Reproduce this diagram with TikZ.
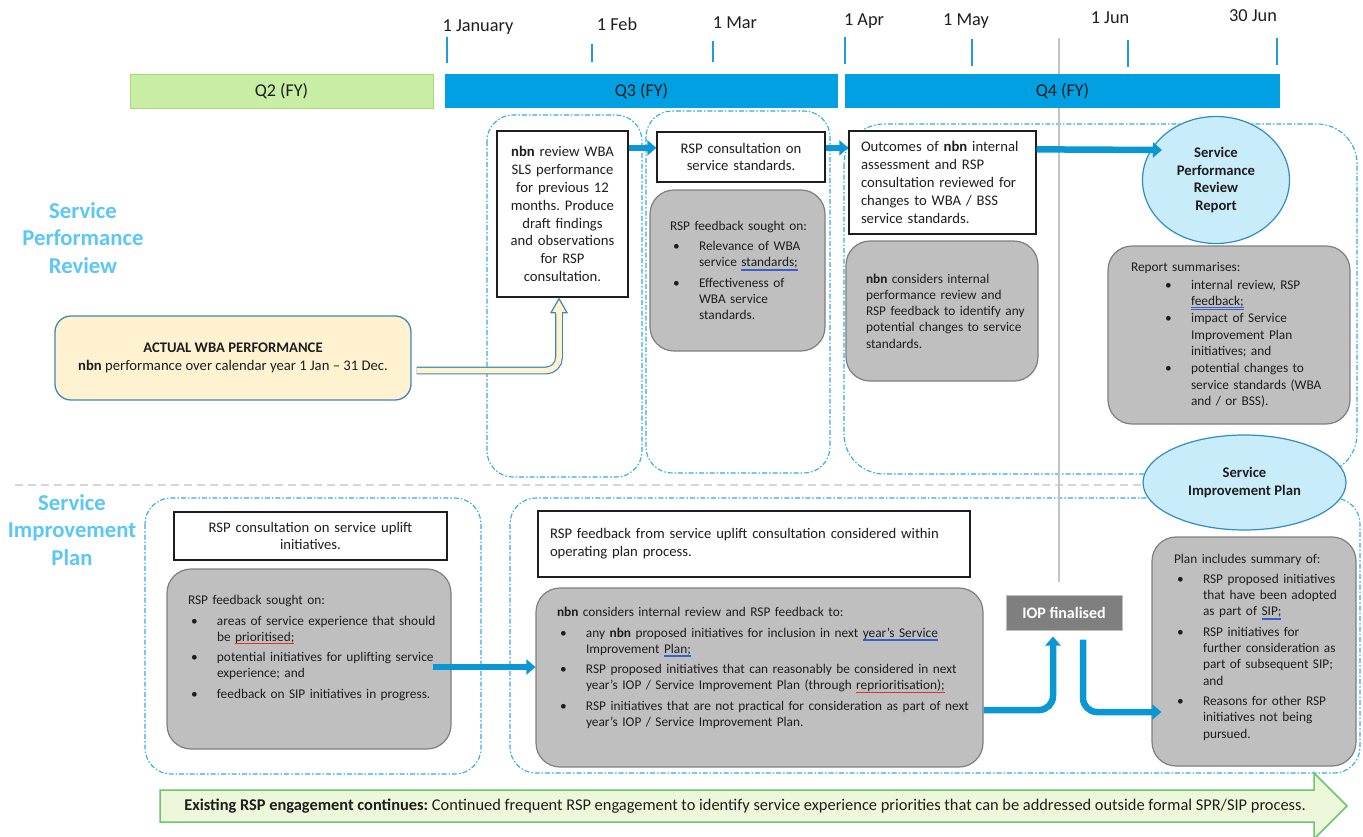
\documentclass[tikz,border=0pt]{standalone}
\usepackage{fontspec}
\setmainfont{Carlito}
\usetikzlibrary{arrows.meta,calc,shapes.geometric}
\frenchspacing
\definecolor{PlanInk}{HTML}{1E1E1E}
\definecolor{PlanQuarter}{HTML}{00A0E3}
\definecolor{PlanGreen}{HTML}{C8EDA4}
\definecolor{PlanGreenEdge}{HTML}{A9DC6E}
\definecolor{PlanTick}{HTML}{1B9DDE}
\definecolor{PlanArrow}{HTML}{0B96D4}
\definecolor{PlanDash}{HTML}{2FAAE6}
\definecolor{PlanHead}{HTML}{5BC7F8}
\definecolor{PlanGrey}{HTML}{BFBFBF}
\definecolor{PlanGreyEdge}{HTML}{7F7F7F}
\definecolor{PlanBubble}{HTML}{C9ECFB}
\definecolor{PlanBubbleEdge}{HTML}{2F8DC2}
\definecolor{PlanCream}{HTML}{FFF2D1}
\definecolor{PlanCreamEdge}{HTML}{3D88B5}
\definecolor{PlanIop}{HTML}{7F7F7F}
\definecolor{PlanEngage}{HTML}{ECF8D9}
\definecolor{PlanEngageEdge}{HTML}{6DC472}
\definecolor{PlanRule}{HTML}{C4C4C4}
\definecolor{PlanSplit}{HTML}{D6D6D6}
\definecolor{GramBlue}{HTML}{3C5FD0}
\definecolor{SpellRed}{HTML}{E03030}
\newlength\bulletlead \setlength\bulletlead{3pt}
\newlength\bulletgap \setlength\bulletgap{29pt}
\newcommand{\bitem}[1]{\par\hangindent=\bulletgap\hangafter=1\noindent\hbox to \bulletgap{\hskip\bulletlead\textbullet\hfil}#1}
\newcommand{\gram}[1]{\setbox0=\hbox{#1}\rlap{\color{GramBlue}\rule[-2.2pt]{\wd0}{0.5pt}\kern-\wd0\rule[-3.5pt]{\wd0}{0.5pt}}\box0}
\newcommand{\spell}[1]{\setbox0=\hbox{#1}\rlap{\color{SpellRed}\rule[-2.6pt]{\wd0}{0.7pt}}\box0}
\tikzset{
  every node/.style={font=\fontsize{14.67}{17.9}\selectfont, text=PlanInk},
  quarter/.style={minimum height=34pt, inner sep=0pt, font=\fontsize{18}{22}\selectfont},
  datetick/.style={draw=PlanTick, line width=2pt},
  datelabel/.style={anchor=base, font=\fontsize{18.3}{22}\selectfont},
  region/.style={draw=PlanDash, line width=1.1pt, dash pattern=on 5pt off 2pt on 1.5pt off 2pt, rounded corners=26pt},
  heading/.style={text=PlanHead, font=\bfseries\fontsize{22.7}{27.8}\selectfont, align=center},
  whitebox/.style={draw=PlanInk, line width=1.3pt, fill=white, inner sep=0pt},
  greybox/.style={draw=PlanGreyEdge, line width=1.2pt, fill=PlanGrey, rounded corners=24pt, inner sep=0pt, align=left,
    font=\fontsize{13.33}{16.3}\selectfont, execute at begin node={\leftskip=#1\relax\setlength{\parskip}{4pt}}},
  bubble/.style={ellipse, draw=PlanBubbleEdge, line width=1.2pt, fill=PlanBubble, inner sep=0pt, align=center,
    font=\bfseries\fontsize{14.67}{17.8}\selectfont},
  actualbox/.style={draw=PlanCreamEdge, line width=1.3pt, fill=PlanCream, rounded corners=16pt, align=center, inner sep=0pt},
  iopbox/.style={draw=PlanGrey, line width=1pt, fill=PlanIop, text=white, font=\bfseries\fontsize{16}{19}\selectfont, inner sep=0pt},
  flow/.style={-{Triangle[length=9pt,width=15pt]}, draw=PlanArrow, line width=6.5pt, rounded corners=14pt},
  hollow/.style={draw=PlanCreamEdge, line width=1.2pt, double=PlanCream, double distance=5.5pt, rounded corners=13pt},
  hollowhead/.style={draw=PlanCreamEdge, fill=PlanCream, line width=1.2pt, line join=miter},
  engage/.style={draw=PlanEngageEdge, fill=PlanEngage, line width=1.5pt},
  todayline/.style={draw=PlanRule, line width=2pt},
  splitline/.style={draw=PlanSplit, line width=1.2pt, dash pattern=on 8pt off 5pt},
}
\begin{document}
\begin{tikzpicture}[x=1pt,y=-1pt]
  \useasboundingbox (0,0) rectangle (1363,836);
  % dash-dot groupings behind everything
  \draw[region] (487,115) rectangle (642,477);
  \draw[region] (646,111) rectangle (830,473);
  \draw[region, rounded corners=40pt] (844,124) rectangle (1357,474);
  \draw[region] (145,498) rectangle (481,774);
  \draw[region] (510,498) rectangle (1360,773);
  \draw[splitline] (15,485) -- (1148,485);
  \draw[todayline] (1059,38) -- (1059,582);
  % timeline: ticks, dates, quarters
  \foreach \x/\ya/\yb in {447/37/63, 592/44/62, 713/41/62, 845/37/64, 972/39/66, 1128/40/67, 1277/38/65}
    \draw[datetick] (\x,\ya) -- (\x,\yb);
  \foreach \x/\y/\d [count=\i] in {478/31/1 January, 617/30/1 Feb, 735/28/1 Mar, 864/25/1 Apr,
      966/25/1 May, 1110/23/1 Jun, 1253/21/30 Jun}
    \node[datelabel] (date\i) at (\x,\y) {\d};
  \node[quarter, fill=PlanGreen, draw=PlanGreenEdge, line width=1pt, minimum width=303] (q2) at (281.5,91) {Q2 (FY)};
  \node[quarter, fill=PlanQuarter, minimum width=393] (q3) at (641.5,91) {Q3 (FY)};
  \node[quarter, fill=PlanQuarter, minimum width=435] (q4) at (1062.5,91) {Q4 (FY)};
  % row headings
  \node[heading] (sprHead) at (83,238) {Service\\Performance\\Review};
  \node[heading] (sipHead) at (72,530) {Service\\Improvement\\Plan};
  % service performance review row
  \node[actualbox, minimum width=356, minimum height=84] (actual) at (233,358)
    {\textbf{ACTUAL WBA PERFORMANCE}\\\textbf{nbn} performance over calendar year 1 Jan -- 31 Dec.};
  \node[whitebox, minimum width=131, minimum height=166, text width=125, align=center] (review) at (562.5,214)
    {\textbf{nbn} review WBA\\SLS performance\\for previous 12\\months. Produce\\draft findings\\and observations\\for RSP\\consultation.};
  \node[whitebox, minimum width=168, minimum height=50, text width=160, align=center] (cons) at (741,157)
    {RSP consultation on\\service standards.};
  \node[whitebox, minimum width=187, minimum height=103, text width=163, align=left] (outc) at (942.5,182.5)
    {Outcomes of \textbf{nbn} internal\\assessment and RSP\\consultation reviewed for\\changes to WBA / BSS\\service standards.};
  \node[greybox=14pt, minimum width=175, minimum height=161, text width=163] (fbA) at (737.5,270.5)
    {RSP feedback sought on:
     \bitem{Relevance of WBA\newline service \gram{standards;}}
     \bitem{Effectiveness of\newline WBA service\newline standards.}\par};
  \node[greybox=14pt, minimum width=192, minimum height=140, text width=180] (fbB) at (942,311)
    {\textbf{nbn} considers internal\newline performance review and\newline RSP feedback to identify any\newline
     potential changes to service\newline standards.\par};
  \node[bubble, minimum width=147, minimum height=127] (sprr) at (1216,180) {Service\\Performance\\Review\\Report};
  \node[greybox=17pt, minimum width=242, minimum height=178, text width=230] (fbC) at (1229,335)
    {\setlength{\bulletlead}{34pt}\setlength{\bulletgap}{60pt}\setlength{\parskip}{1pt}Report summarises:
     \bitem{internal review, RSP\newline \gram{feedback;}}
     \bitem{impact of Service\newline Improvement Plan\newline initiatives; and}
     \bitem{potential changes to\newline service standards (WBA\newline and / or BSS).}\par};
  % service improvement plan row
  \node[whitebox, minimum width=273, minimum height=48, text width=265, align=center] (upl) at (310.5,536)
    {RSP consultation on service uplift\\initiatives.};
  \node[greybox=15pt, minimum width=284, minimum height=180, text width=272] (fbD) at (309,659)
    {RSP feedback sought on:
     \bitem{areas of service experience that should\newline be \spell{prioritised;}}
     \bitem{potential initiatives for uplifting service\newline experience; and}
     \bitem{feedback on SIP initiatives in progress.}
     \par\vspace*{22pt}};
  \node[whitebox, minimum width=432, minimum height=66, text width=408, align=left] (opp) at (754,544)
    {RSP feedback from service uplift consultation considered within\\operating plan process.};
  \node[greybox=15pt, minimum width=447, minimum height=179, text width=435] (fbE) at (759.5,677.5)
    {\textbf{nbn} considers internal review and RSP feedback to:
     \bitem{any \textbf{nbn} proposed initiatives for inclusion in next \gram{year's Service}\newline Improvement \gram{Plan;}}
     \bitem{RSP proposed initiatives that can reasonably be considered in next\newline year's IOP / Service Improvement Plan (through \spell{reprioritisation);}}
     \bitem{RSP initiatives that are not practical for consideration as part of next\newline year's IOP / Service Improvement Plan.}
     \par\vspace*{19pt}};
  \node[iopbox, minimum width=116, minimum height=35] (iop) at (1064,612.5) {IOP finalised};
  \node[bubble, minimum width=203, minimum height=95] (sip) at (1244.5,482.5) {Service\\Improvement Plan};
  \node[greybox=16pt, minimum width=204, minimum height=229, text width=192] (fbG) at (1254,651.5)
    {Plan includes summary of:
     \bitem{RSP proposed initiatives\newline that have been adopted\newline as part of \gram{SIP;}}
     \bitem{RSP initiatives for\newline further consideration as\newline part of subsequent SIP;\newline and}
     \bitem{Reasons for other RSP\newline initiatives not being\newline pursued.}
     \par\vspace*{9pt}};
  % connectors
  \draw[hollow] ($(actual.east)+(5,12.5)$) -| ($(review.south)+(-3.5,14)$);
  \filldraw[hollowhead] ($(review.south)+(-3.5,1)$) -- ++(-8,14) -- ++(16,0) -- cycle;
  \draw[PlanCream, line width=5.4pt] ($(review.south)+(-3.5,13.5)$) -- ++(0,3);
  \draw[flow] ($(review.north east)+(0,17.5)$) -- ($(cons.north west)+(0,16.5)$);
  \draw[flow] ($(cons.north east)+(0,16.5)$) -- ($(outc.north west)+(0,17.5)$);
  \draw[flow] ($(outc.north east)+(0,19)$) -- ($(sprr.center)+(-54,-30)$);
  \draw[flow] ($(fbD.east)+(-19,8)$) -- ($(fbE.west)+(0,-10.5)$);
  \draw[flow] ($(fbE.east)+(0,32.5)$) -| ($(iop.south)+(-11,6)$);
  \draw[flow] ($(iop.south)+(19,9)$) |- ($(fbG.west)+(10,60.5)$);
  % ongoing engagement band
  \filldraw[engage] (160,790) -- (1314,790) -- (1314,773) -- (1347,806) -- (1314,839) -- (1314,822) -- (160,822) -- cycle;
  \node[font=\fontsize{16.4}{19}\selectfont] (engText) at (745,806) {\textbf{Existing RSP engagement continues:} Continued frequent RSP engagement to identify service experience priorities that can be addressed outside formal SPR/SIP process.};
\end{tikzpicture}
\end{document}
